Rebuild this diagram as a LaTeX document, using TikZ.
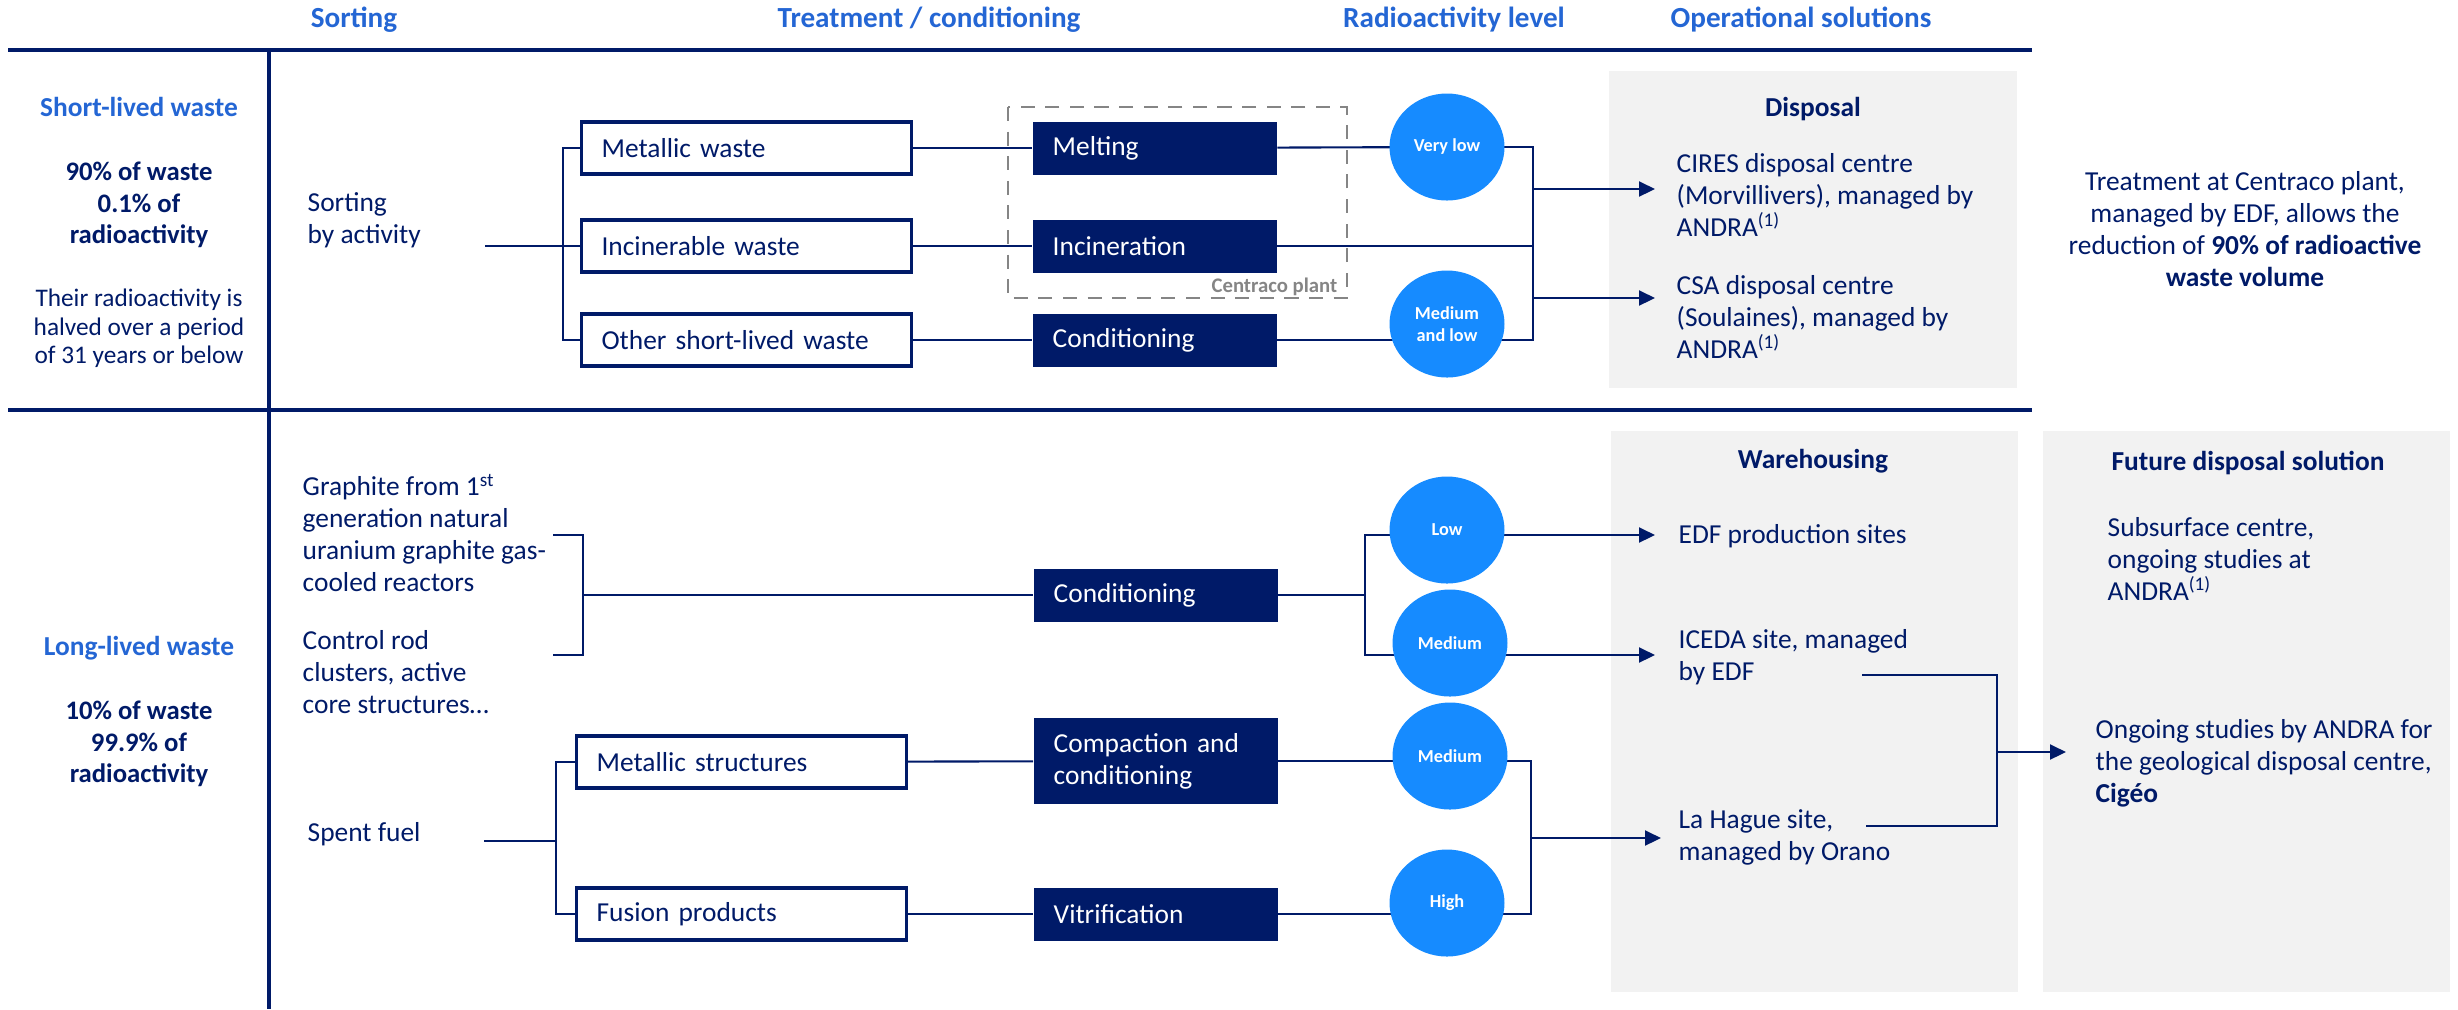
\documentclass[tikz,border=0pt]{standalone}
\usepackage{fontspec}
\setmainfont{Carlito}
\usetikzlibrary{arrows.meta,positioning,shapes.geometric,backgrounds}

\definecolor{navy}{HTML}{001A68}
\definecolor{headblue}{HTML}{2466D4}
\definecolor{dotblue}{HTML}{168BFF}
\definecolor{panel}{HTML}{F2F2F2}
\definecolor{plantgray}{HTML}{858585}

\newcommand{\bodysize}{\fontsize{7.8}{9.1}\selectfont}

\begin{document}
\begin{tikzpicture}[x=1cm,y=-1cm,
    every node/.style={text=navy,font=\bodysize,inner sep=0pt},
    head/.style={font=\fontsize{8.3}{10}\selectfont\bfseries,text=headblue},
    kind/.style={font=\fontsize{7.8}{9.1}\selectfont\bfseries,text=headblue},
    share/.style={font=\fontsize{7.6}{8.9}\selectfont\bfseries,align=center},
    note/.style={font=\fontsize{7.2}{8.1}\selectfont,align=center},
    txt/.style={anchor=west,align=left},
    title/.style={font=\bodysize\bfseries},
    wastebox/.style={draw=navy,line width=0.9pt,anchor=west,align=left,text width=2.9cm,inner xsep=0.2cm,minimum height=0.52cm},
    procbox/.style={fill=navy,text=white,anchor=west,align=left,text width=2.04cm,inner xsep=0.2cm,minimum height=0.53cm},
    level/.style={ellipse,fill=dotblue,text=white,minimum width=1.15cm,minimum height=1.07cm,font=\fontsize{5.2}{6.3}\selectfont\bfseries,align=center},
    conn/.style={draw=navy,line width=0.6pt},
    arr/.style={conn,-{Triangle[length=0.16cm,width=0.15cm]}},
    rule/.style={draw=navy,line width=1.3pt},
  ]
  \useasboundingbox (0,0) rectangle (24.58,10.09);

  % column heads
  \node[head] (hsort) at (3.54,0.20) {Sorting};
  \node[head] (htreat) at (9.29,0.20) {Treatment / conditioning};
  \node[head] (hlevel) at (14.54,0.20) {Radioactivity level};
  \node[head] (hsol) at (18.01,0.20) {Operational solutions};
  \draw[rule] (0.08,0.50) -- (20.32,0.50);
  \draw[rule] (0.08,4.10) -- (20.32,4.10);
  \draw[rule] (2.69,0.50) -- (2.69,10.09);

  % left column
  \node[kind] (short) at (1.39,1.07) {Short-lived waste};
  \node[share] (shortshare) at (1.39,2.05) {90\% of waste\\0.1\% of\\radioactivity};
  \node[note] (halflife) at (1.39,3.285) {Their radioactivity is\\halved over a period\\of 31 years or below};
  \node[kind] (long) at (1.39,6.485) {Long-lived waste};
  \node[share] (longshare) at (1.39,7.44) {10\% of waste\\99.9\% of\\radioactivity};

  % short-lived waste
  \node[txt] (sortact) at (3.07,2.20) {Sorting\\by activity};
  \coordinate (s0) at (4.85,2.46);
  \coordinate (b0) at (5.63,2.46);
  \node[wastebox] (metw) at (5.80,1.48) {Metallic waste};
  \node[wastebox] (incw) at (5.80,2.46) {Incinerable waste};
  \node[wastebox] (othw) at (5.80,3.40) {Other short-lived waste};
  \node[procbox] (melt) at (10.32,1.48) {Melting};
  \node[procbox] (incin) at (10.32,2.46) {Incineration};
  \node[procbox] (cond1) at (10.32,3.40) {Conditioning};
  \node[level] (vlow) at (14.47,1.47) {Very low};
  \node[level] (mlow) at (14.47,3.24) {Medium\\and low};
  \coordinate (b1) at (15.33,2.46);
  \coordinate (t1) at (16.55,1.89);
  \coordinate (t2) at (16.55,2.98);
  \node[title] (disp) at (18.13,1.09) {Disposal};
  \node[txt] (cires) at (16.76,1.95) {CIRES disposal centre\\(Morvillivers), managed by\\ANDRA\textsuperscript{(1)}};
  \node[txt] (csa) at (16.76,3.17) {CSA disposal centre\\(Soulaines), managed by\\ANDRA\textsuperscript{(1)}};
  \node[align=center] (centraco) at (22.45,2.29) {Treatment at Centraco plant,\\managed by EDF, allows the\\reduction of \textbf{90\% of radioactive}\\\textbf{waste volume}};

  % long-lived waste
  \node[txt] (graph) at (3.02,5.33) {Graphite from 1\textsuperscript{st}\\generation natural\\uranium graphite gas-\\cooled reactors};
  \node[txt] (rods) at (3.02,6.72) {Control rod\\clusters, active\\core structures…};
  \coordinate (b2) at (5.83,5.95);
  \node[procbox] (cond2) at (10.33,5.95) {Conditioning};
  \node[level] (low) at (14.47,5.30) {Low};
  \node[level] (med1) at (14.50,6.43) {Medium};
  \coordinate (b3) at (13.65,5.95);
  \coordinate (b3a) at (13.65,5.35);
  \coordinate (b3b) at (13.65,6.55);
  \coordinate (t3) at (16.55,5.35);
  \coordinate (t4) at (16.55,6.55);
  \node[txt] (spent) at (3.07,8.34) {Spent fuel};
  \coordinate (s1) at (4.84,8.41);
  \coordinate (b4) at (5.56,8.41);
  \node[wastebox] (mets) at (5.75,7.62) {Metallic structures};
  \node[wastebox] (fus) at (5.75,9.14) {Fusion products};
  \node[procbox,minimum height=0.86cm] (comp) at (10.33,7.61) {Compaction and\\conditioning};
  \node[procbox] (vitr) at (10.33,9.14) {Vitrification};
  \node[level] (med2) at (14.50,7.56) {Medium};
  \node[level] (high) at (14.47,9.03) {High};
  \coordinate (b5) at (15.31,8.38);
  \coordinate (t5) at (16.61,8.38);
  \node[title] (ware) at (18.13,4.61) {Warehousing};
  \node[txt] (edf) at (16.78,5.36) {EDF production sites};
  \node[txt] (iceda) at (16.78,6.57) {ICEDA site, managed\\by EDF};
  \node[txt] (hague) at (16.78,8.37) {La Hague site,\\managed by Orano};
  \node[title] (future) at (22.48,4.63) {Future disposal solution};
  \node[txt] (subs) at (21.07,5.59) {Subsurface centre,\\ongoing studies at\\ANDRA\textsuperscript{(1)}};
  \node[txt] (cigeo) at (20.95,7.63) {Ongoing studies by ANDRA for\\the geological disposal centre,\\\textbf{Cigéo}};
  \coordinate (b6a) at (18.62,6.75);
  \coordinate (b6b) at (18.66,8.26);
  \coordinate (b6) at (19.97,7.52);
  \coordinate (t6) at (20.66,7.52);

  % Centraco plant
  \draw[plantgray,line width=0.7pt,dash pattern=on 4pt off 3pt] (10.08,1.07) rectangle (13.47,2.98);
  \node[anchor=east,text=plantgray,font=\fontsize{5.9}{7}\selectfont\bfseries] (plant) at (13.38,2.87) {Centraco plant};

  \begin{scope}[on background layer]
    \fill[panel] (16.09,0.71) rectangle (20.17,3.88);
    \fill[panel] (16.11,4.31) rectangle (20.18,9.92);
    \fill[panel] (20.43,4.31) rectangle (24.50,9.92);
    % short-lived
    \draw[conn] (s0) -- (incw.west);
    \draw[conn] (metw.west) -| (b0) |- (othw.west);
    \draw[conn] (metw) -- (melt);
    \draw[conn] (incw) -- (incin);
    \draw[conn] (othw) -- (cond1);
    \draw[conn] (melt) -- (vlow.center);
    \draw[conn] (cond1) -- (cond1 -| mlow);
    \draw[conn] (vlow.center) -| (b1) |- (cond1 -| mlow);
    \draw[conn] (incin) -- (b1);
    \draw[arr] (t1 -| b1) -- (t1);
    \draw[arr] (t2 -| b1) -- (t2);
    % long-lived
    \draw[conn] (5.53,5.35) -| (b2) |- (5.53,6.55);
    \draw[conn] (b2) -- (cond2);
    \draw[conn] (cond2) -- (b3);
    \draw[conn] (b3a -| low) -- (b3a) -- (b3b) -- (b3b -| med1);
    \draw[arr] (b3a -| low) -- (t3);
    \draw[arr] (b3b -| med1) -- (t4);
    \draw[conn] (s1) -- (b4);
    \draw[conn] (mets.west) -| (b4) |- (fus.west);
    \draw[conn] (mets) -- (comp);
    \draw[conn] (fus) -- (vitr);
    \draw[conn] (comp) -- (comp -| med2) -- (comp -| b5) -- (vitr -| b5) -- (vitr -| high) -- (vitr);
    \draw[arr] (b5) -- (t5);
    \draw[conn] (b6a) -- (b6a -| b6) -- (b6b -| b6) -- (b6b);
    \draw[arr] (b6) -- (t6);
  \end{scope}
\end{tikzpicture}
\end{document}
